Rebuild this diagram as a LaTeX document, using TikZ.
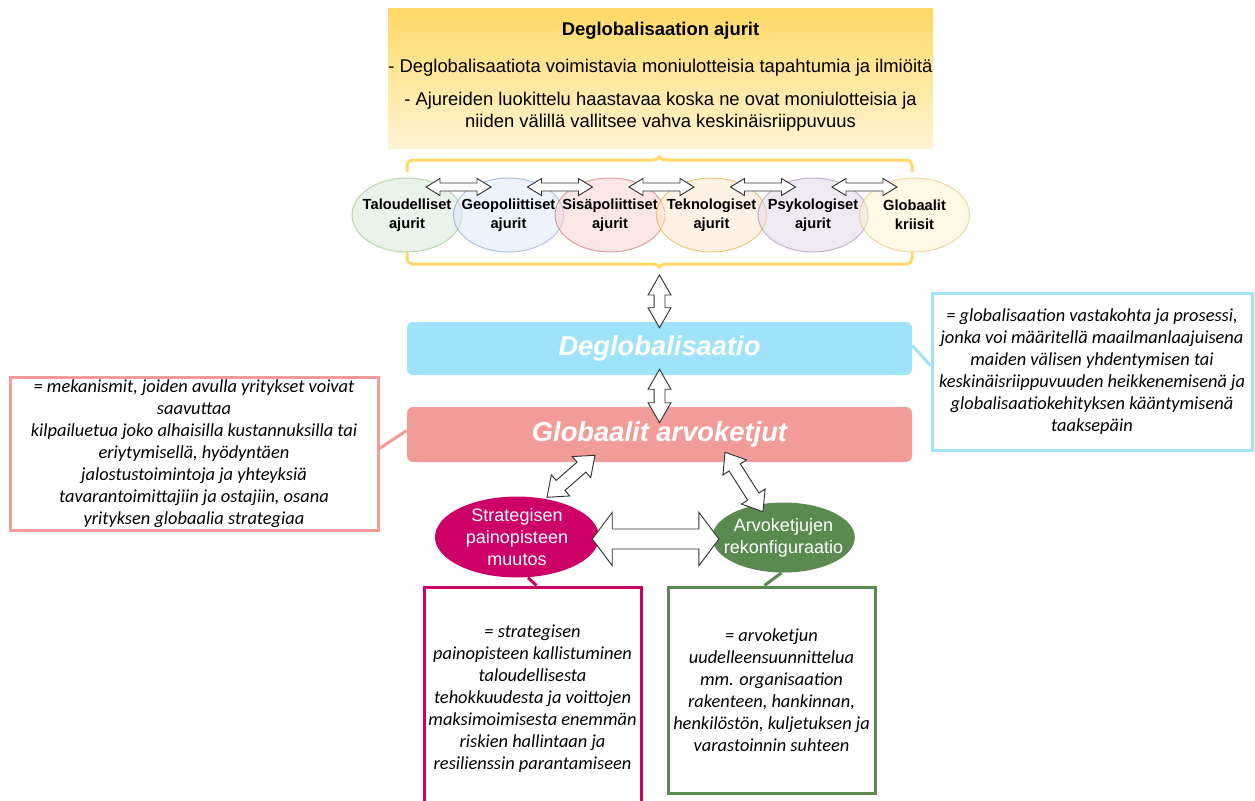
\documentclass[tikz,border=0pt]{standalone}
\usepackage{fontspec}
\setmainfont{Liberation Sans}
\newfontfamily\notefont{Carlito}
\usetikzlibrary{shapes.geometric,calc,positioning}
\definecolor{drvtop}{HTML}{FFD966}
\definecolor{drvbot}{HTML}{FFF4D2}
\definecolor{degblue}{HTML}{9FE3FA}
\definecolor{gvcpink}{HTML}{F19C99}
\definecolor{stratmag}{HTML}{CC0066}
\definecolor{arvgreen}{HTML}{5A8A50}
\definecolor{arrline}{HTML}{333333}
\definecolor{talf}{HTML}{D5E8D4}\definecolor{tall}{HTML}{82B366}
\definecolor{geof}{HTML}{DAE8FC}\definecolor{geol}{HTML}{6C8EBF}
\definecolor{sisf}{HTML}{F8CECC}\definecolor{sisl}{HTML}{B85450}
\definecolor{tekf}{HTML}{FFE6CC}\definecolor{tekl}{HTML}{D79B00}
\definecolor{psyf}{HTML}{E1D5E7}\definecolor{psyl}{HTML}{9673A6}
\definecolor{glof}{HTML}{FFF2CC}\definecolor{glol}{HTML}{D6B656}

\tikzset{flexbody/.store in=\flexbody, flexhead/.store in=\flexhead, flexlen/.store in=\flexlen,
  flexbody=4pt, flexhead=8pt, flexlen=12pt}
% two-headed block arrow between two points
\newcommand\flexarrow[3][]{%
  \draw[flex,#1] let \p1=(#2), \p2=(#3), \n1={atan2(\y2-\y1,\x2-\x1)}, \n2={veclen(\x2-\x1,\y2-\y1)} in
    [shift={(\p1)},rotate=\n1]
    (0,0) -- (\flexlen,\flexhead) -- (\flexlen,\flexbody) -- ({\n2*1pt-\flexlen},\flexbody)
    -- ({\n2*1pt-\flexlen},\flexhead) -- ({\n2*1pt},0) -- ({\n2*1pt-\flexlen},-\flexhead)
    -- ({\n2*1pt-\flexlen},-\flexbody) -- (\flexlen,-\flexbody) -- (\flexlen,-\flexhead) -- cycle;}

\begin{document}
\begin{tikzpicture}[x=0.75pt,y=-0.75pt,
    drvbox/.style={top color=drvtop,bottom color=drvbot,minimum width=408.75pt,minimum height=105pt,inner sep=0},
    drvtxt/.style={inner sep=0,align=center,font=\fontsize{13.8}{16.5}\selectfont},
    drv/.style={ellipse,minimum width=82.5pt,minimum height=55.5pt,inner xsep=-12pt,inner ysep=0,line width=0.75pt,
      fill opacity=0.5,draw opacity=0.5,text opacity=1,align=center,font=\fontsize{11}{14.5}\selectfont\bfseries},
    band/.style={rounded corners=4.5pt,minimum width=378.75pt,inner sep=0,text=white,
      font=\fontsize{20.5}{24}\selectfont\bfseries\itshape},
    topic/.style={ellipse,inner xsep=-10pt,inner ysep=0,minimum height=52.5pt,text=white,align=center,
      font=\fontsize{13.5}{16.5}\selectfont},
    note/.style={draw,line width=2.25pt,fill=white,align=center,inner sep=0,
      font=\notefont\itshape\fontsize{13.8}{16.5}\selectfont},
    flex/.style={draw=arrline,fill=white,line width=0.7pt},
    arrsmall/.style={flexbody=3pt,flexhead=6.4pt,flexlen=10.5pt},
    arrvert/.style={flexbody=4.1pt,flexhead=8.6pt,flexlen=15pt},
    arrdiag/.style={flexbody=5pt,flexhead=10.5pt,flexlen=13.5pt},
    arrwide/.style={flexbody=7.5pt,flexhead=20pt,flexlen=15pt},
    brace/.style={draw=drvtop,line width=2.25pt,line cap=round},
    callout/.style={line width=2.25pt}]
  \path[fill=white] (0,0) rectangle (1255,800);
  \useasboundingbox (0,0) rectangle (1255,800);
  % drivers header
  \node[drvbox] (drv) at (660.5,78) {};
  \node[drvtxt,below=10.5pt of drv.north] (drvt) {{\bfseries Deglobalisaation ajurit}\\[11.25pt]
    - Deglobalisaatiota voimistavia moniulotteisia tapahtumia ja ilmiöitä\\[8.25pt]
    - Ajureiden luokittelu haastavaa koska ne ovat moniulotteisia ja\\
    niiden välillä vallitsee vahva keskinäisriippuvuus};
  % braces
  \draw[brace,rounded corners=4pt] (407,171) -- (407,160) -- (647,160)
    .. controls (657,160) and (659.5,157) .. (659.5,152)
    .. controls (659.5,157) and (662,160) .. (672,160) -- (912,160) -- (912,171);
  \coordinate (brbot) at (659.5,272);
  \draw[brace,rounded corners=4pt] (407,253) -- (407,264) -- (647,264)
    .. controls (657,264) and (659.5,267) .. (brbot)
    .. controls (659.5,267) and (662,264) .. (672,264) -- (912,264) -- (912,253);
  % driver ellipses
  \foreach \n/\t [count=\i from 0] in {tal/{Taloudelliset\\ajurit},geo/{Geopoliittiset\\ajurit},
      sis/{Sisäpoliittiset\\ajurit},tek/{Teknologiset\\ajurit},psy/{Psykologiset\\ajurit},glo/{Globaalit\\kriisit}}
    \node[drv,fill=\n f,draw=\n l] (\n) at ({407+101.5*\i},215) {\t};
  \foreach \a/\b in {tal/geo,geo/sis,sis/tek,tek/psy,psy/glo}
    \flexarrow[arrsmall]{$(\a.center)+(19,-28)$}{$(\b.center)+(-17.5,-28)$};
  % main bands
  \node[band,fill=degblue,minimum height=39.75pt] (deg) at (659.5,348.5) {Deglobalisaatio};
  \node[band,fill=gvcpink,minimum height=41.25pt] (gvc) at (659.5,434.5) {Globaalit arvoketjut};
  \flexarrow[arrvert]{$(brbot)+(0,3)$}{$(deg.north)+(0,6)$};
  \flexarrow[arrvert]{$(deg.south)+(0,-6)$}{$(gvc.north)+(0,16)$};
  % definitions
  \node[note,draw=gvcpink,minimum width=276pt,minimum height=114.75pt] (lnote) at (194,453.5)
    {= mekanismit, joiden avulla yritykset voivat\\saavuttaa\\kilpailuetua joko alhaisilla kustannuksilla tai\\
     eriytymisellä, hyödyntäen\\jalostustoimintoja ja yhteyksiä\\tavarantoimittajiin ja ostajiin, osana\\
     yrityksen globaalia strategiaa};
  \node[note,draw=degblue,minimum width=240pt,minimum height=117.75pt] (rnote) at (1092,371.5)
    {= globalisaation vastakohta ja prosessi,\\jonka voi määritellä maailmanlaajuisena\\maiden välisen yhdentymisen tai\\
     keskinäisriippuvuuden heikkenemisenä ja\\globalisaatiokehityksen kääntymisenä\\taaksepäin};
  \draw[callout,gvcpink] ($(lnote.east)+(0,-5)$) -- ($(gvc.west)+(0,-4)$);
  \draw[callout,degblue] ($(deg.east)+(0,-3)$) -- ($(rnote.west)+(0,-6)$);
  % responses
  \node[topic,fill=stratmag,minimum width=123pt] (str) at (517,537) {Strategisen\\painopisteen\\muutos};
  \node[topic,fill=arvgreen,minimum width=107pt] (arv) at (783.5,537.5) {Arvoketjujen\\rekonfiguraatio};
  \node[note,draw=stratmag,minimum width=162.75pt,minimum height=168pt] (snote) at (532.5,699)
    {= strategisen\\painopisteen kallistuminen\\taloudellisesta\\tehokkuudesta ja voittojen\\
     maksimoimisesta enemmän\\riskien hallintaan ja\\resilienssin parantamiseen};
  \node[note,draw=arvgreen,minimum width=155.25pt,minimum height=154.5pt] (anote) at (771.5,690)
    {= arvoketjun\\uudelleensuunnittelua\\mm. organisaation\\rakenteen, hankinnan,\\
     henkilöstön, kuljetuksen ja\\varastoinnin suhteen};
  \draw[callout,stratmag] ($(str.south)+(11,0)$) -- ($(snote.north)+(4,0)$);
  \draw[callout,arvgreen] ($(arv.south)+(-2,0)$) -- ($(anote.north)+(-7,0)$);
  \flexarrow[arrdiag]{$(gvc.south)+(-64.5,-7)$}{$(str.north)+(30,1)$};
  \flexarrow[arrdiag]{$(gvc.south)+(65.5,-10)$}{$(arv.north)+(-20.5,9.5)$};
  \flexarrow[arrwide]{$(str.east)+(-7,2)$}{$(arv.west)+(7,1.5)$};
\end{tikzpicture}
\end{document}
